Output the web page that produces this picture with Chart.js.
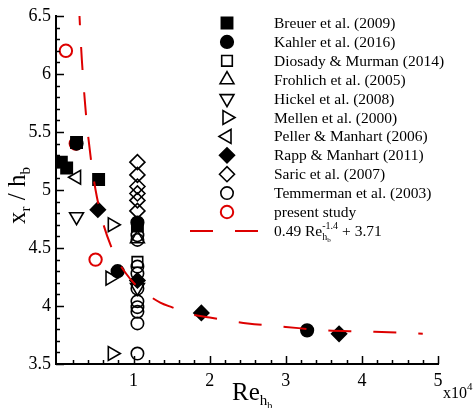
<!DOCTYPE html>
<html>
<head>
<meta charset="utf-8">
<script src="https://cdn.jsdelivr.net/npm/chart.js@4.4.1/dist/chart.umd.min.js"></script>
<style>
  html, body { margin: 0; padding: 0; background: #fff; }
</style>
</head>
<body>
<canvas id="reattachChart" width="476" height="408"></canvas>
<script>
// Reattachment length vs Re_hb (Re in units of 10^4)
const breuerRe = [0.05, 0.12, 0.25, 0.54, 1.05];
const breuerXr = [5.24, 5.19, 5.41, 5.09, 4.69];
const kahlerRe = [0.25, 0.79, 1.05, 3.28];
const kahlerXr = [5.40, 4.30, 4.72, 3.79];
const diosadyRe = [1.05];
const diosadyXr = [4.38];
const frohlichRe = [1.05];
const frohlichXr = [4.58];
const hickelRe = [0.25, 1.05];
const hickelXr = [4.77, 4.16];
const mellenRe = [0.72, 0.69, 0.72];
const mellenXr = [4.70, 4.24, 3.59];
const pellerRe = [0.25];
const pellerXr = [5.11];
const rappRe = [0.53, 1.05, 1.89, 3.70];
const rappXr = [4.83, 4.22, 3.94, 3.76];
const saricRe = [1.05, 1.05, 1.05, 1.05, 1.05, 1.05];
const saricXr = [5.24, 5.13, 5.03, 4.97, 4.91, 4.82];
const temmermanRe = [1.05, 1.05, 1.05, 1.05, 1.05, 1.05, 1.05, 1.05, 1.05, 1.05];
const temmermanXr = [4.61, 4.57, 4.34, 4.28, 4.15, 4.04, 3.99, 3.95, 3.85, 3.59];
const presentRe = [0.11, 0.24, 0.50];
const presentXr = [6.20, 5.40, 4.40];

// dashed fit curve
const fitRe = [0.28, 0.30, 0.32, 0.34, 0.36, 0.38, 0.40, 0.45, 0.50, 0.55, 0.60, 0.70, 0.80, 0.90, 1.00, 1.10, 1.20, 1.35, 1.50, 1.75, 2.00, 2.50, 3.00, 3.50, 4.00, 4.50, 4.80];
const fitXr = [6.62, 6.35, 6.12, 5.93, 5.76, 5.61, 5.48, 5.21, 5.00, 4.84, 4.71, 4.52, 4.38, 4.28, 4.20, 4.14, 4.09, 4.03, 3.99, 3.93, 3.90, 3.85, 3.82, 3.79, 3.78, 3.77, 3.76];

const xTickValues = [1, 2, 3, 4, 5];
const yTickValues = [3.5, 4, 4.5, 5, 5.5, 6, 6.5];

const RED = '#dd0000';
const serif = '"Liberation Serif", "DejaVu Serif", serif';

const pts = (xs, ys) => xs.map((x, i) => ({ x: x, y: ys[i] }));

const series = [
  { label: 'Breuer et al. (2009)', re: breuerRe, xr: breuerXr, style: 'rect', rot: 0, fill: true, r: 8, color: '#000' },
  { label: 'Kahler et al. (2016)', re: kahlerRe, xr: kahlerXr, style: 'circle', rot: 0, fill: true, r: 6.3, color: '#000' },
  { label: 'Diosady & Murman (2014)', re: diosadyRe, xr: diosadyXr, style: 'rect', rot: 0, fill: false, r: 7.5, color: '#000' },
  { label: 'Frohlich et al. (2005)', re: frohlichRe, xr: frohlichXr, style: 'triangle', rot: 0, fill: false, r: 8, color: '#000' },
  { label: 'Hickel et al. (2008)', re: hickelRe, xr: hickelXr, style: 'triangle', rot: 180, fill: false, r: 8, color: '#000' },
  { label: 'Mellen et al. (2000)', re: mellenRe, xr: mellenXr, style: 'triangle', rot: 90, fill: false, r: 8, color: '#000' },
  { label: 'Peller & Manhart (2006)', re: pellerRe, xr: pellerXr, style: 'triangle', rot: 270, fill: false, r: 8, color: '#000' },
  { label: 'Rapp & Manhart (2011)', re: rappRe, xr: rappXr, style: 'rectRot', rot: 0, fill: true, r: 7.5, color: '#000' },
  { label: 'Saric et al. (2007)', re: saricRe, xr: saricXr, style: 'rectRot', rot: 0, fill: false, r: 7.5, color: '#000' },
  { label: 'Temmerman et al. (2003)', re: temmermanRe, xr: temmermanXr, style: 'circle', rot: 0, fill: false, r: 6.2, color: '#000' },
  { label: 'present study', re: presentRe, xr: presentXr, style: 'circle', rot: 0, fill: false, r: 6.2, color: RED }
];

const datasets = [{
  label: 'fit',
  data: pts(fitRe, fitXr),
  showLine: true,
  borderColor: RED,
  borderWidth: 2,
  borderDash: [23, 22],
  pointRadius: 0,
  cubicInterpolationMode: 'monotone',
  order: 0
}];
series.forEach(s => {
  datasets.push({
    label: s.label,
    data: pts(s.re, s.xr),
    pointStyle: s.style,
    pointRotation: s.rot,
    pointRadius: s.r,
    pointBackgroundColor: s.fill ? s.color : 'rgba(0,0,0,0)',
    pointBorderColor: s.color,
    pointBorderWidth: s.color === RED ? 2 : 1.6,
    order: 1
  });
});

// draw text with sub/superscript pieces: [text, fontSize, dy, noAdvance]
function drawRuns(c, runs, x, y) {
  let cx = x;
  runs.forEach(run => {
    c.font = run[1] + 'px ' + serif;
    c.fillText(run[0], cx, y + (run[2] || 0));
    if (!run[3]) cx += c.measureText(run[0]).width;
  });
  return cx;
}

const decorPlugin = {
  id: 'decor',
  afterDraw(chart) {
    const c = chart.ctx;
    const xs = chart.scales.x, ys = chart.scales.y;
    const area = chart.chartArea;
    c.save();
    // inward ticks
    c.strokeStyle = '#000';
    c.lineWidth = 1.5;
    c.beginPath();
    for (let i = 1; i <= 25; i++) {
      const px = Math.round(xs.getPixelForValue(i * 0.2)) + 0.5;
      const len = (i % 5 === 0) ? 8 : 4;
      c.moveTo(px, area.bottom);
      c.lineTo(px, area.bottom - len);
    }
    for (let i = 35; i <= 65; i++) {
      const py = Math.round(ys.getPixelForValue(i / 10)) + 0.5;
      const len = (i % 5 === 0) ? 8 : 4;
      c.moveTo(area.left, py);
      c.lineTo(area.left + len, py);
    }
    c.stroke();

    c.fillStyle = '#000';
    c.textBaseline = 'alphabetic';
    c.textAlign = 'left';

    // x axis title: Re_{h_b}
    let ex = drawRuns(c, [['Re', 25, 0]], 232, 400);
    drawRuns(c, [['h', 15, 5], ['b', 10, 9]], ex, 400);
    // x10^4
    ex = drawRuns(c, [['x10', 16, 0]], 443, 398);
    drawRuns(c, [['4', 11, -8]], ex, 398);

    // y axis title: x_r / h_b (rotated)
    c.save();
    c.translate(25, 224);
    c.rotate(-Math.PI / 2);
    ex = drawRuns(c, [['x', 25, 0], ['r', 15, 5]], 0, 0);
    ex = drawRuns(c, [[' / h', 25, 0]], ex, 0);
    drawRuns(c, [['b', 15, 5]], ex, 0);
    c.restore();

    // legend
    const mx = 227, tx = 274, y0 = 23, dy = 18.9;
    series.forEach((s, i) => {
      const y = y0 + i * dy;
      c.fillStyle = s.fill ? s.color : 'rgba(0,0,0,0)';
      c.strokeStyle = s.color;
      c.lineWidth = s.color === RED ? 2 : 1.6;
      c.setLineDash([]);
      Chart.helpers.drawPoint(c, { pointStyle: s.style, rotation: s.rot, radius: s.r, borderWidth: 1 }, mx, y);
      c.fillStyle = '#000';
      c.textBaseline = 'middle';
      c.font = '15.5px ' + serif;
      c.fillText(s.label, tx, y + 1);
    });
    const fy = y0 + series.length * dy;
    c.strokeStyle = RED;
    c.lineWidth = 2;
    c.setLineDash([23, 22]);
    c.beginPath();
    c.moveTo(190, fy);
    c.lineTo(258, fy);
    c.stroke();
    c.setLineDash([]);
    c.fillStyle = '#000';
    c.textBaseline = 'middle';
    ex = drawRuns(c, [['0.49 Re', 15.5, 1]], tx, fy);
    drawRuns(c, [['-1.4', 10, -5, true]], ex, fy);
    const hx = drawRuns(c, [['h', 10, 6]], ex, fy);
    drawRuns(c, [['b', 7, 9]], hx, fy);
    drawRuns(c, [[' + 3.71', 15.5, 1]], ex + 16, fy);
    c.restore();
  }
};

new Chart(document.getElementById('reattachChart').getContext('2d'), {
  type: 'scatter',
  data: { datasets: datasets },
  options: {
    responsive: false,
    animation: false,
    events: [],
    layout: { padding: { left: 0, right: 38, top: 16, bottom: 0 } },
    plugins: { legend: { display: false }, tooltip: { enabled: false } },
    scales: {
      x: {
        type: 'linear',
        min: -0.02,
        max: 5,
        afterBuildTicks: scale => { scale.ticks = xTickValues.map(v => ({ value: v })); },
        afterFit: scale => { scale.height = 44; },
        grid: { display: false, drawTicks: false },
        border: { display: true, color: '#000', width: 2 },
        ticks: { color: '#000', font: { family: serif, size: 18 }, padding: 6, maxRotation: 0, callback: v => String(v) }
      },
      y: {
        type: 'linear',
        min: 3.5,
        max: 6.5,
        afterBuildTicks: scale => { scale.ticks = yTickValues.map(v => ({ value: v })); },
        afterFit: scale => { scale.width = 56; },
        grid: { display: false, drawTicks: false },
        border: { display: true, color: '#000', width: 2 },
        ticks: { color: '#000', font: { family: serif, size: 18 }, padding: 5, callback: v => String(v) }
      }
    }
  },
  plugins: [decorPlugin]
});
</script>
</body>
</html>
